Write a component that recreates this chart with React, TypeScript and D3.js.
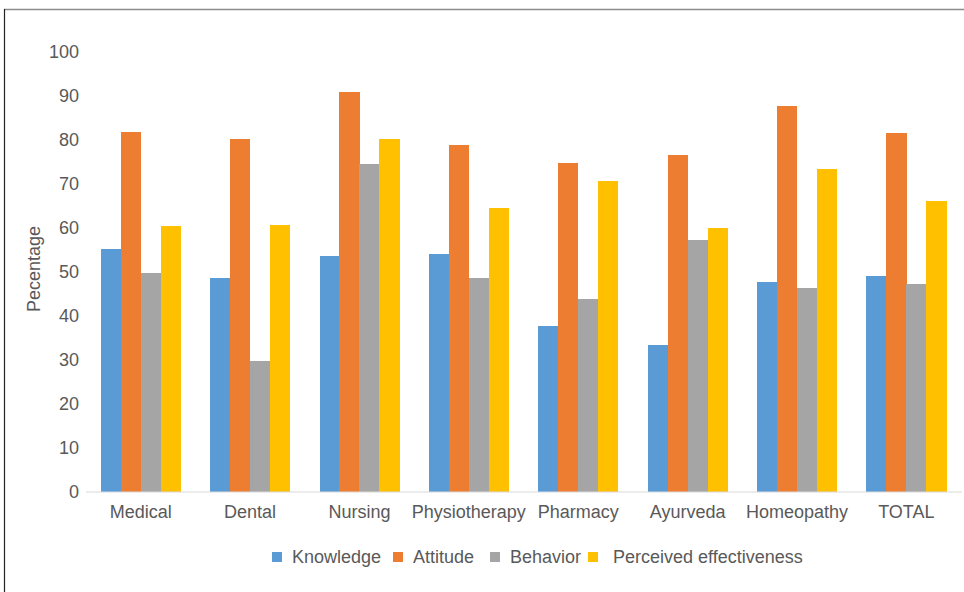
import React from "react";
import * as d3 from "d3";

const categories = ["Medical", "Dental", "Nursing", "Physiotherapy", "Pharmacy", "Ayurveda", "Homeopathy", "TOTAL"];
const seriesNames = ["Knowledge", "Attitude", "Behavior", "Perceived effectiveness"];
const knowledge = [55.2, 48.5, 53.5, 54.0, 37.6, 33.4, 47.6, 49.0];
const attitude = [81.9, 80.3, 90.8, 78.9, 74.8, 76.6, 87.8, 81.6];
const behavior = [49.7, 29.6, 74.5, 48.5, 43.7, 57.2, 46.2, 47.1];
const perceived = [60.5, 60.6, 80.3, 64.5, 70.7, 59.9, 73.4, 66.1];
const yTicks = [0, 10, 20, 30, 40, 50, 60, 70, 80, 90, 100];
const colors = ["#5B9BD5", "#ED7D31", "#A5A5A5", "#FFC000"];
const legendX = [272, 393, 490, 588];
const legendTextGap = [20, 20, 20, 25];

const seriesValues = [knowledge, attitude, behavior, perceived];

export default function App() {
  const W = 964, H = 592;
  const x0 = d3.scaleBand<string>().domain(categories).range([86, 961]).paddingInner(0.27).paddingOuter(0.135);
  const x1 = d3.scaleBand<string>().domain(seriesNames).range([0, x0.bandwidth()]);
  const y = d3.scaleLinear().domain([0, 100]).range([491.5, 52]);
  const font = "'Liberation Sans', Arial, sans-serif";
  const textColor = "#595959";

  return (
    <svg width={W} height={H} style={{ position: "absolute", left: 0, top: 0, background: "#fff" }} fontFamily={font}>
      <rect x={0} y={0} width={W} height={H} fill="#fff" />
      <line x1={4} x2={W} y1={9.5} y2={9.5} stroke="#8c8c8c" strokeWidth={1.5} />
      <line x1={4.5} x2={4.5} y1={9} y2={H} stroke="#222" strokeWidth={1.2} />
      {yTicks.map((t) => (
        <text key={t} x={79} y={y(t)} dy="0.35em" textAnchor="end" fontSize={18} fill={textColor}>
          {t}
        </text>
      ))}
      <text transform={`translate(40,269) rotate(-90)`} textAnchor="middle" fontSize={18} fill={textColor}>
        Pecentage
      </text>
      {categories.map((c, i) => (
        <g key={c}>
          {seriesNames.map((s, j) => {
            const v = seriesValues[j][i];
            return (
              <rect
                key={s}
                x={(x0(c) as number) + (x1(s) as number)}
                y={y(v)}
                width={x1.bandwidth() + 0.3}
                height={y(0) - y(v)}
                fill={colors[j]}
                shapeRendering="crispEdges"
              />
            );
          })}
          <text x={(x0(c) as number) + x0.bandwidth() / 2} y={518} textAnchor="middle" fontSize={18} fill={textColor}>
            {c}
          </text>
        </g>
      ))}
      <line x1={86} x2={962} y1={y(0) + 0.5} y2={y(0) + 0.5} stroke="#d9d9d9" strokeWidth={1} />
      {seriesNames.map((s, j) => (
        <g key={s}>
          <rect x={legendX[j]} y={552} width={10} height={10} fill={colors[j]} />
          <text x={legendX[j] + legendTextGap[j]} y={563} fontSize={18} fill={textColor}>
            {s}
          </text>
        </g>
      ))}
    </svg>
  );
}
